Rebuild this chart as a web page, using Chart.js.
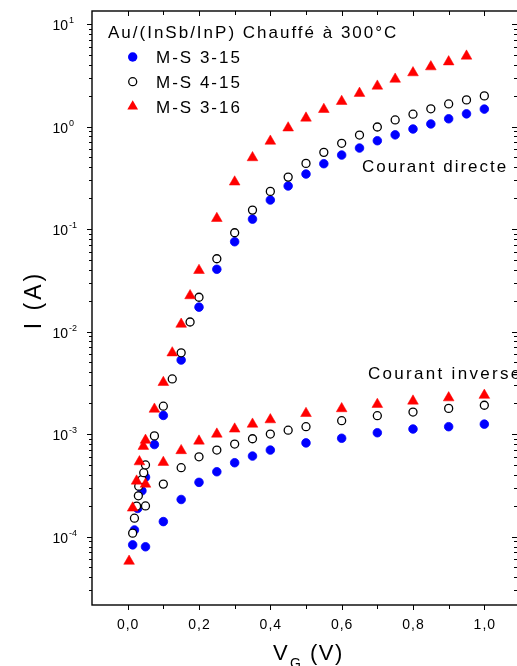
<!DOCTYPE html>
<html>
<head>
<meta charset="utf-8">
<script src="https://cdn.jsdelivr.net/npm/chart.js@4/dist/chart.umd.min.js"></script>
<style>
  html, body { margin: 0; padding: 0; overflow: hidden; background: #fff; }
  #wrap { width: 517px; height: 666px; overflow: hidden; position: relative; }
  #ivChart { display: block; }
</style>
</head>
<body>
<div id="wrap"><canvas id="ivChart" width="523" height="666"></canvas></div>
<script>
// Series names
const seriesNames = ['M-S 3-15', 'M-S 4-15', 'M-S 3-16'];

// M-S 3-15 (blue, filled circles)
const vFwd315 = [0.014, 0.019, 0.028, 0.04, 0.05, 0.075, 0.1, 0.15, 0.2, 0.25, 0.3, 0.35, 0.4, 0.45, 0.5, 0.55, 0.6, 0.65, 0.7, 0.75, 0.8, 0.85, 0.9, 0.95, 1.0];
const iFwd315 = [8.3e-5, 1.16e-4, 1.88e-4, 2.8e-4, 3.8e-4, 7.9e-4, 1.52e-3, 5.27e-3, 0.0173, 0.0405, 0.0752, 0.125, 0.192, 0.263, 0.344, 0.434, 0.527, 0.617, 0.727, 0.83, 0.946, 1.06, 1.19, 1.33, 1.48];
const vRev315 = [0.05, 0.1, 0.15, 0.2, 0.25, 0.3, 0.35, 0.4, 0.5, 0.6, 0.7, 0.8, 0.9, 1.0];
const iRev315 = [7.95e-5, 1.4e-4, 2.3e-4, 3.38e-4, 4.29e-4, 5.25e-4, 6.1e-4, 6.98e-4, 8.2e-4, 9.1e-4, 1.03e-3, 1.12e-3, 1.18e-3, 1.25e-3];

// M-S 4-15 (open circles)
const vFwd415 = [0.014, 0.019, 0.025, 0.03, 0.031, 0.04, 0.045, 0.05, 0.075, 0.1, 0.125, 0.15, 0.175, 0.2, 0.25, 0.3, 0.35, 0.4, 0.45, 0.5, 0.55, 0.6, 0.65, 0.7, 0.75, 0.8, 0.85, 0.9, 0.95, 1.0];
const iFwd415 = [1.08e-4, 1.51e-4, 1.98e-4, 2.5e-4, 3.1e-4, 3.6e-4, 4.2e-4, 5.0e-4, 9.6e-4, 1.87e-3, 3.45e-3, 6.2e-3, 0.0124, 0.0216, 0.0513, 0.092, 0.153, 0.233, 0.321, 0.437, 0.56, 0.686, 0.826, 0.99, 1.16, 1.32, 1.49, 1.66, 1.82, 1.99];
const vRev415 = [0.05, 0.1, 0.15, 0.2, 0.25, 0.3, 0.35, 0.4, 0.45, 0.5, 0.6, 0.7, 0.8, 0.9, 1.0];
const iRev415 = [1.99e-4, 3.25e-4, 4.7e-4, 6.0e-4, 6.98e-4, 7.99e-4, 9.0e-4, 1.0e-3, 1.09e-3, 1.18e-3, 1.35e-3, 1.51e-3, 1.64e-3, 1.78e-3, 1.91e-3];

// M-S 3-16 (red triangles)
const vFwd316 = [0.004, 0.014, 0.025, 0.033, 0.044, 0.05, 0.075, 0.1, 0.125, 0.15, 0.175, 0.2, 0.25, 0.3, 0.35, 0.4, 0.45, 0.5, 0.55, 0.6, 0.65, 0.7, 0.75, 0.8, 0.85, 0.9, 0.95];
const iFwd316 = [5.75e-5, 1.9e-4, 3.48e-4, 5.37e-4, 7.6e-4, 8.7e-4, 1.75e-3, 3.19e-3, 6.2e-3, 0.0118, 0.0224, 0.0395, 0.127, 0.288, 0.497, 0.72, 0.97, 1.21, 1.47, 1.76, 2.11, 2.48, 2.9, 3.35, 3.83, 4.28, 4.87];
const vRev316 = [0.05, 0.1, 0.15, 0.2, 0.25, 0.3, 0.35, 0.4, 0.5, 0.6, 0.7, 0.8, 0.9, 1.0];
const iRev316 = [3.25e-4, 5.3e-4, 6.9e-4, 8.55e-4, 1.0e-3, 1.12e-3, 1.25e-3, 1.38e-3, 1.59e-3, 1.77e-3, 1.95e-3, 2.1e-3, 2.26e-3, 2.39e-3];

// Tick labels
const xTickLabels = ['0,0', '0,2', '0,4', '0,6', '0,8', '1,0'];
const yExponents = [1, 0, -1, -2, -3, -4];

const FONT = '"Liberation Sans", Arial, sans-serif';

function pts(vs, is) {
  return vs.map((v, k) => ({ x: v, y: is[k] }));
}

// Axes frame, ticks, labels and legend drawn on the chart scales
const framePlugin = {
  id: 'frame',
  afterDraw(chart) {
    const { ctx, chartArea: a, scales: { x, y } } = chart;
    ctx.save();
    ctx.strokeStyle = '#000';
    ctx.fillStyle = '#000';

    // x ticks every 0.1
    ctx.lineWidth = 1;
    for (let k = 0; k <= 10; k++) {
      const px = Math.round(x.getPixelForValue(k / 10)) + 0.5;
      const len = k % 2 === 0 ? 5 : 4;
      ctx.beginPath();
      ctx.moveTo(px, a.bottom); ctx.lineTo(px, a.bottom + len);
      ctx.moveTo(px, a.top); ctx.lineTo(px, a.top + len);
      ctx.stroke();
    }
    // y ticks (log, minor 2..9)
    for (let d = -5; d <= 1; d++) {
      for (let m = 1; m <= 9; m++) {
        const v = m * Math.pow(10, d);
        if (v < y.min || v > y.max) continue;
        const py = Math.round(y.getPixelForValue(v)) + 0.5;
        const len = m === 1 ? 5 : 3;
        ctx.beginPath();
        ctx.moveTo(a.left - len, py); ctx.lineTo(a.left, py);
        ctx.moveTo(a.right - len - 3, py); ctx.lineTo(a.right, py);
        ctx.stroke();
      }
    }
    // frame
    ctx.lineWidth = 1.4;
    ctx.strokeRect(a.left, a.top, a.right - a.left, a.bottom - a.top);

    // x tick labels
    ctx.letterSpacing = '1px';
    ctx.font = '14px ' + FONT;
    ctx.textAlign = 'center';
    ctx.textBaseline = 'alphabetic';
    xTickLabels.forEach((t, k) => {
      ctx.fillText(t, x.getPixelForValue(k * 0.2) + 0.5, 629);
    });

    // y tick labels 10^n
    ctx.letterSpacing = '0px';
    yExponents.forEach(e => {
      const py = y.getPixelForValue(Math.pow(10, e));
      ctx.font = '14px ' + FONT;
      ctx.textAlign = 'right';
      ctx.fillText('10', 68, py + 6);
      ctx.font = '9px ' + FONT;
      ctx.textAlign = 'left';
      ctx.fillText(String(e), 69, py - 1);
    });

    // axis titles
    ctx.font = '23px ' + FONT;
    ctx.letterSpacing = '3px';
    ctx.textAlign = 'center';
    ctx.save();
    ctx.translate(41, 300);
    ctx.rotate(-Math.PI / 2);
    ctx.fillText('I (A)', 0, 0);
    ctx.restore();

    ctx.textAlign = 'left';
    ctx.letterSpacing = '1.5px';
    ctx.font = '22px ' + FONT;
    ctx.fillText('V', 273, 660);
    ctx.font = '14px ' + FONT;
    ctx.fillText('G', 290, 668);
    ctx.font = '22px ' + FONT;
    ctx.fillText('(V)', 310, 660);

    // annotations and legend
    ctx.font = '17px ' + FONT;
    ctx.letterSpacing = '2px';
    ctx.fillText('Courant directe', 362, 172);
    ctx.letterSpacing = '2.3px';
    ctx.fillText('Courant inverse', 368, 379);
    ctx.letterSpacing = '2px';
    ctx.fillText('Au/(InSb/InP) Chauffé à 300°C', 108, 38);
    const rows = [57, 81.7, 106.5];
    seriesNames.forEach((n, k) => ctx.fillText(n, 156, rows[k] + 6.3));

    // legend markers
    const mx = 132.7;
    ctx.beginPath();
    ctx.arc(mx, rows[0], 4.7, 0, Math.PI * 2);
    ctx.fillStyle = '#0000ff';
    ctx.fill();
    ctx.beginPath();
    ctx.arc(mx, rows[1], 4, 0, Math.PI * 2);
    ctx.fillStyle = '#fff';
    ctx.fill();
    ctx.lineWidth = 1.3;
    ctx.strokeStyle = '#000';
    ctx.stroke();
    const r = 6.2;
    ctx.beginPath();
    ctx.moveTo(mx, rows[2] - r);
    ctx.lineTo(mx + 0.866 * r, rows[2] + 0.5 * r);
    ctx.lineTo(mx - 0.866 * r, rows[2] + 0.5 * r);
    ctx.closePath();
    ctx.fillStyle = '#ff0000';
    ctx.fill();
    ctx.restore();
  }
};

const ctx = document.getElementById('ivChart').getContext('2d');
new Chart(ctx, {
  type: 'scatter',
  data: {
    datasets: [
      {
        label: seriesNames[2],
        data: pts(vFwd316, iFwd316).concat(pts(vRev316, iRev316)),
        pointStyle: 'triangle',
        pointRadius: 6.2,
        backgroundColor: '#ff0000',
        borderColor: '#ff0000',
        borderWidth: 0.5,
        order: 0
      },
      {
        label: seriesNames[1],
        data: pts(vFwd415, iFwd415).concat(pts(vRev415, iRev415)),
        pointStyle: 'circle',
        pointRadius: 4,
        backgroundColor: '#ffffff',
        borderColor: '#000000',
        borderWidth: 1.3,
        order: 1
      },
      {
        label: seriesNames[0],
        data: pts(vFwd315, iFwd315).concat(pts(vRev315, iRev315)),
        pointStyle: 'circle',
        pointRadius: 4.3,
        backgroundColor: '#0000ff',
        borderColor: '#0000ff',
        borderWidth: 0.8,
        order: 2
      }
    ]
  },
  options: {
    responsive: false,
    animation: false,
    layout: { autoPadding: false, padding: { left: 92, top: 11, right: 3, bottom: 61 } },
    plugins: { legend: { display: false }, tooltip: { enabled: false } },
    scales: {
      x: { type: 'linear', min: -0.1, max: 1.1, display: false },
      y: { type: 'logarithmic', min: 2.15e-5, max: 13.4, display: false }
    }
  },
  plugins: [framePlugin]
});
</script>
</body>
</html>
